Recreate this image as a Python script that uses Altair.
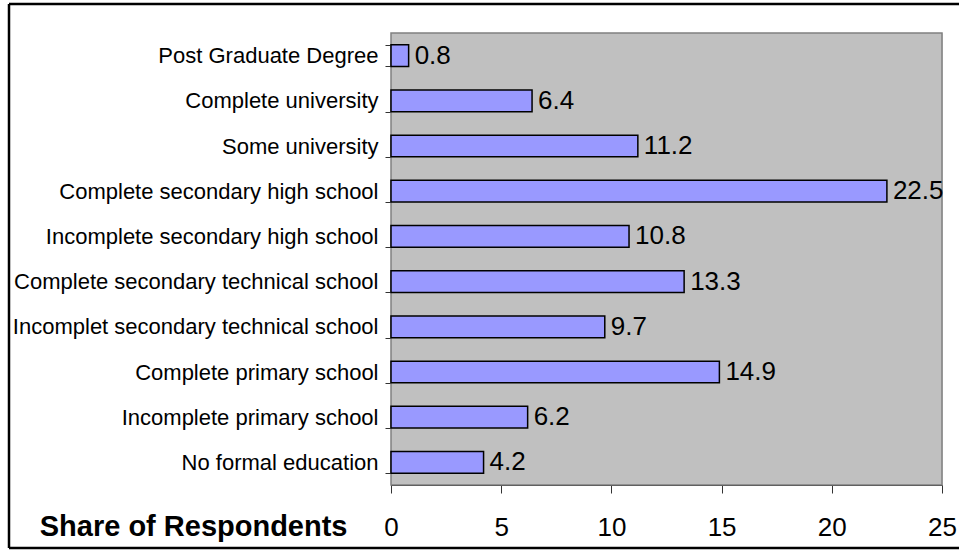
import altair as alt
import pandas as pd

# Education levels, listed top to bottom, and share of respondents (%)
levels = [
    "Post Graduate Degree",
    "Complete university",
    "Some university",
    "Complete secondary high school",
    "Incomplete secondary high school",
    "Complete secondary technical school",
    "Incomplet secondary technical school",
    "Complete primary school",
    "Incomplete primary school",
    "No formal education",
]
shares = [0.8, 6.4, 11.2, 22.5, 10.8, 13.3, 9.7, 14.9, 6.2, 4.2]
x_ticks = [0, 5, 10, 15, 20, 25]

df = pd.DataFrame({"level": levels, "share": shares})

FONT = "Liberation Sans"
W, H = 551, 452
PAD_L, PAD_T = 391, 33

y_enc = alt.Y(
    "level:N",
    sort=levels,
    scale=alt.Scale(paddingInner=0.52, paddingOuter=0.26),
    axis=alt.Axis(
        title=None,
        tickBand="extent",
        tickSize=6,
        tickColor="#333333",
        domainColor="#000000",
        labelFontSize=22,
        labelColor="#000000",
        labelPadding=7,
        labelLimit=400,
    ),
)

x_enc = alt.X(
    "share:Q",
    scale=alt.Scale(domain=[0, 25], nice=False),
    axis=alt.Axis(
        title="Share of Respondents",
        values=x_ticks,
        grid=False,
        tickSize=8,
        tickColor="#333333",
        domainColor="#000000",
        labelFontSize=26,
        labelColor="#000000",
        labelBaseline="alphabetic",
        labelPadding=42,
        labelFlush=False,
        labelOverlap=False,
        titleFontSize=29,
        titleFontWeight="bold",
        titleColor="#000000",
        titleAlign="right",
        titleBaseline="alphabetic",
        titleX=-44,
        titleY=50,
    ),
)

one = pd.DataFrame({"k": [0]})

# Gray plot-area background
plot_bg = alt.Chart(one).mark_rect(
    fill="#C0C0C0", stroke="#808080", strokeWidth=1.5
).encode(
    x=alt.value(0), x2=alt.value(W), y=alt.value(0), y2=alt.value(H)
)

bars = alt.Chart(df).mark_bar(
    fill="#9999FF", stroke="#000000", strokeWidth=1.5
).encode(x=x_enc, y=y_enc)

labels = alt.Chart(df).mark_text(
    align="left", baseline="middle", dx=6, fontSize=26, color="#000000", font=FONT
).encode(
    x="share:Q",
    y=alt.Y("level:N", sort=levels),
    text=alt.Text("share:Q", format=".1f"),
)

# Frame around the figure: top, left and bottom edges
left_x, right_x, top_y, bottom_y = 9 - PAD_L, 959 - PAD_L, 4 - PAD_T, 548 - PAD_T
frame_top = alt.Chart(one).mark_rule(color="#000000", strokeWidth=2.5).encode(
    x=alt.value(left_x), x2=alt.value(right_x), y=alt.value(top_y)
)
frame_bottom = alt.Chart(one).mark_rule(color="#000000", strokeWidth=2.5).encode(
    x=alt.value(left_x), x2=alt.value(right_x), y=alt.value(bottom_y)
)
frame_left = alt.Chart(one).mark_rule(color="#000000", strokeWidth=2.5).encode(
    x=alt.value(left_x), y=alt.value(top_y), y2=alt.value(bottom_y)
)

chart = (
    alt.layer(plot_bg, bars, labels, frame_top, frame_bottom, frame_left)
    .properties(
        width=W,
        height=H,
        autosize=alt.AutoSizeParams(type="none"),
        padding={"left": PAD_L, "top": PAD_T, "right": 959 - PAD_L - W, "bottom": 550 - PAD_T - H},
        background="#FFFFFF",
    )
    .configure_view(stroke=None)
    .configure(font=FONT)
)

chart.save("out.html", embed_options={"renderer": "svg", "actions": False})
